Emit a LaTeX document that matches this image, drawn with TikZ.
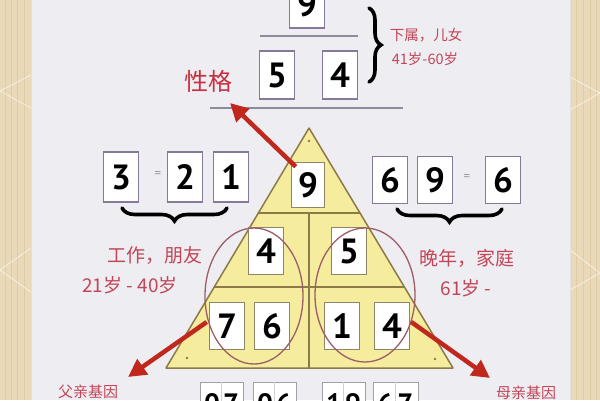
\documentclass[tikz,border=0pt]{standalone}
\usepackage{fontspec}
\setmainfont{PT Sans}
\newfontfamily\cjk{Noto Sans CJK SC}
\usetikzlibrary{decorations.pathreplacing,arrows.meta,calc}
\definecolor{pagebg}{HTML}{EEEDF2}
\definecolor{wood}{HTML}{EAD9B8}
\definecolor{woodgrain}{HTML}{DFCBA6}
\definecolor{boxline}{HTML}{857898}
\definecolor{triline}{HTML}{8C7A48}
\definecolor{trifill}{HTML}{F6EC9E}
\definecolor{tribox}{HTML}{8E8466}
\definecolor{labred}{HTML}{C24658}
\definecolor{titred}{HTML}{C8303F}
\definecolor{arrred}{HTML}{C0281E}
\definecolor{ringc}{HTML}{9C5E66}
\definecolor{rulec}{HTML}{8F8A9E}
\definecolor{lowbox}{HTML}{A0A0A8}
\tikzset{
  digbox/.style={draw=boxline, line width=1.4pt, fill=white, minimum width=35pt,
    minimum height=47pt, inner sep=0pt, font=\fontsize{35}{35}\selectfont\bfseries},
  tbox/.style={digbox, draw=tribox, line width=1.6pt},
  lab/.style={text=labred, inner sep=0pt},
  redarrow/.style={draw=arrred, line width=4.5pt, -{Triangle[length=18pt,width=18pt]}},
  bigbrace/.style={decorate, decoration={brace, amplitude=#1, aspect=0.5},
    line width=3.6pt, line cap=round},
  bigbrace/.default=13pt,
  ring/.style={draw=ringc, line width=1.3pt},
  rulel/.style={draw=rulec, line width=1.1pt},
  eqs/.style={text=gray!80, font=\fontsize{13}{13}\selectfont, inner sep=0pt},
  lowdig/.style={anchor=base, inner sep=0pt, font=\fontsize{28}{28}\selectfont\bfseries}
}
\begin{document}
\begin{tikzpicture}[x=1pt,y=-1pt]
\useasboundingbox (0,0) rectangle (600,400);
\clip (0,0) rectangle (600,400);
% background and wood strips
\fill[pagebg] (0,0) rectangle (600,400);
\fill[wood] (0,0) rectangle (31,400);
\fill[wood] (570,0) rectangle (600,400);
\foreach \x in {5,11,17,24} {\draw[woodgrain, line width=0.6pt] (\x,0) -- (\x,400);}
\foreach \x in {576,583,590,596} {\draw[woodgrain, line width=0.6pt] (\x,0) -- (\x,400);}
\draw[white, opacity=0.6, line width=0.8pt] (31,75) -- (0,91) -- (31,108);
\draw[white, opacity=0.6, line width=0.8pt] (31,248) -- (0,270) -- (31,292);
\draw[white, opacity=0.6, line width=0.8pt] (570,77) -- (600,93) -- (570,110);
\draw[white, opacity=0.6, line width=0.8pt] (570,250) -- (600,273) -- (570,290);
\draw[black!12, line width=1pt] (31,0) -- (31,400);
\draw[black!12, line width=1pt] (570,0) -- (570,400);

% top section
\node[digbox, minimum height=48pt] (top9) at (307,4) {9};
\draw[rulel] (260,36) -- (358,36);
\node[digbox, minimum height=48pt] (top5) at (277,75) {5};
\node[digbox, minimum height=48pt] (top4) at (340,75) {4};
\draw[rulel] (210,108) -- (403,108);
\draw[bigbrace=12pt] (369,8) -- (369,82);
\node[lab, font=\cjk\fontsize{14.5}{14.5}\selectfont] (lab1) at (426,35) {下属，儿女};
\node[lab, font=\cjk\fontsize{14.5}{14.5}\selectfont] (lab2) at (425,59) {41岁-60岁};
\node[text=titred, inner sep=0pt, font=\cjk\fontsize{24}{24}\selectfont] (xingge) at (208,81) {性格};

% triangle
\coordinate (apex) at (309,128);
\coordinate (bl) at (166,368);
\coordinate (br) at (453,368);
\fill[trifill] (apex) -- (bl) -- (br) -- cycle;
\draw[triline, line width=1.3pt] ($(apex)!0.354!(bl)$) -- ($(apex)!0.354!(br)$);
\draw[triline, line width=1.3pt] ($(apex)!0.6625!(bl)$) -- ($(apex)!0.6625!(br)$);
\draw[triline, line width=1.3pt] (309,213) -- (309,368);
\draw[triline, line width=1.5pt, line join=round] (apex) -- (bl) -- (br) -- cycle;
\fill[triline] (309,141) circle (1.3pt);
\fill[triline] (187,358) circle (1.3pt);
\fill[triline] (435,359) circle (1.3pt);

\node[tbox, minimum width=33pt, minimum height=45pt] (t9) at (308,185) {9};
\node[tbox] (t4) at (266,251) {4};
\node[tbox] (t5) at (349,251) {5};
\node[tbox] (t7) at (227,326) {7};
\node[tbox] (t6) at (272,326) {6};
\node[tbox] (t1) at (342,326) {1};
\node[tbox] (t4b) at (392,326) {4};

\draw[ring] (254,296) ellipse [x radius=49, y radius=68];
\draw[ring] (365,295) ellipse [x radius=50, y radius=67];

% left group
\node[digbox, minimum height=50pt] (l3) at (121,177) {3};
\node[eqs] (leq) at (158,175) {=};
\node[digbox, minimum height=50pt] (l2) at (185,177) {2};
\node[digbox, minimum height=50pt] (l1) at (231,177) {1};
\draw[bigbrace] (227,208) -- (122,208);
\node[lab, font=\cjk\fontsize{19}{19}\selectfont] (lab3) at (155,256) {工作，朋友};
\node[lab, font=\cjk\fontsize{19}{19}\selectfont] (lab4) at (130,285) {21岁 - 40岁};

% right group
\node[digbox] (r6) at (390,180) {6};
\node[digbox] (r9) at (435,180) {9};
\node[eqs] (req) at (467,178) {=};
\node[digbox] (r6b) at (503,180) {6};
\draw[bigbrace] (502,209) -- (397,209);
\node[lab, font=\cjk\fontsize{19}{19}\selectfont] (lab5) at (467,258) {晚年，家庭};
\node[lab, font=\cjk\fontsize{19}{19}\selectfont] (lab6) at (466,288) {61岁 -};

% bottom labels
\node[lab, font=\cjk\fontsize{15}{15}\selectfont] (fa) at (88,392) {父亲基因};
\node[lab, font=\cjk\fontsize{15}{15}\selectfont] (mo) at (526,393) {母亲基因};

% arrows
\coordinate (tipA) at (230,103);
\coordinate (tipB) at (128,377);
\coordinate (tipC) at (490,378);
\draw[redarrow] ($(t9.north west)+(5,5)$) -- (tipA);
\draw[redarrow] ($(t7.west)+(-2,-4)$) -- (tipB);
\draw[redarrow] ($(t4b.east)+(1,-4)$) -- (tipC);

% bottom boxes (cut off)
\foreach \xa/\xb/\da/\db [count=\i] in {200/243/0/7, 253/296/0/6, 322/365/1/9, 373/418/6/7} {
  \draw[lowbox, line width=1pt, fill=white] (\xa,382) rectangle (\xb,430);
  \draw[lowbox!50, line width=0.6pt] ({(\xa+\xb)/2},382) -- ({(\xa+\xb)/2},430);
  \node[lowdig] (ld\i a) at ({\xa+(\xb-\xa)*0.28},413) {\da};
  \node[lowdig] (ld\i b) at ({\xa+(\xb-\xa)*0.72},413) {\db};
}
\end{tikzpicture}
\end{document}
